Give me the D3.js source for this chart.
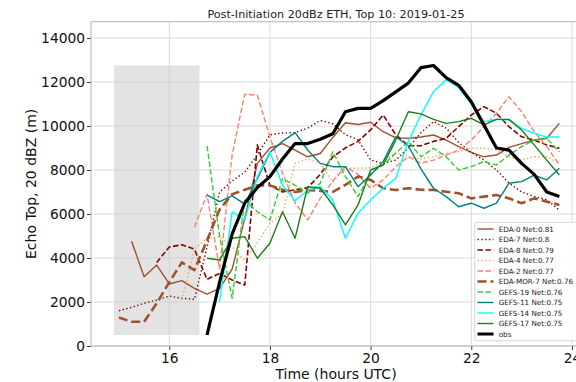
<!DOCTYPE html>
<html>
<head>
<meta charset="utf-8">
<script src="https://cdn.jsdelivr.net/npm/d3@7"></script>
<style>
    body { margin: 0; background: #fff; }
    svg { display: block; font-family: "DejaVu Sans", sans-serif; }
</style>
</head>
<body>
<div id="chart"></div>
<script>
// time steps (hours UTC), 15 min apart
const hours = [15, 15.25, 15.5, 15.75, 16, 16.25, 16.5, 16.75, 17, 17.25, 17.5, 17.75,
    18, 18.25, 18.5, 18.75, 19, 19.25, 19.5, 19.75, 20, 20.25, 20.5, 20.75,
    21, 21.25, 21.5, 21.75, 22, 22.25, 22.5, 22.75, 23, 23.25, 23.5, 23.75];

// echo top heights (m), null = no value
const eda0 = [null, 4770, 3150, 3680, 2820, 2970, 2620, 2360, 2620, 3500, 5800, 8300,
    9000, 9200, 8900, 8600, 8750, 9480, 10150, 10070, 10170, 9740, 9460, 9440,
    9500, 9590, 9360, 9060, 8800, 8600, 8680, 9030, 9200, 9360, 9440, 10120];
const eda7 = [1600, 1760, 1940, 2090, 2270, 2170, 2120, 4500, 7000, 7500, 7900, 8700,
    9600, 9680, 9700, 9900, 10250, 10100, 9600, 9380, 8450, 8300, 8450, 9000,
    9700, 10200, 9900, 9250, 8800, 8450, 8000, 7400, 7000, 6800, 6650, 6180];
const eda8 = [null, null, null, 3800, 4500, 4600, 4400, 3030, 3300, 3000, 2770, 9140,
    7300, 7000, 7100, 7200, 7800, 8600, 9000, 9300, 9820, 10500, 9600, 9100,
    9100, 9300, 9440, 9970, 10500, 10880, 10580, 9970, 9510, 9360, 9140, 8990];
const eda4 = [null, null, null, null, null, 2100, 4400, 4900, 4970, 4510, 3900, 4700,
    5580, 6000, 8300, 8500, 8300, 7470, 8080, 8080, 8100, 8380, 8800, 8600,
    8500, 8600, 8750, 8830, 8990, 8990, 8910, 8600, 8450, 8600, 8600, 8300];
const eda2 = [null, null, null, null, null, null, 5400, 6900, 3500, 8700, 11450, 11400,
    9500, 7850, 6500, 5730, 6710, 7500, 8150, 7800, 7170, 7550, 8150, 8600,
    8300, 8450, 8680, 8900, 9360, 9970, 10580, 11330, 10650, 9740, 9060, 8230];
const edaMor7 = [1300, 1100, 1100, 1940, 2900, 3800, 3450, 4800, 6200, 6900, 7100, 7300,
    7300, 7100, 7000, 7090, 7050, 7010, 7320, 7700, 7550, 7170, 7090, 7170,
    7100, 7090, 7010, 6940, 6710, 6790, 6860, 6710, 6490, 6710, 6560, 6410];
const gefs19 = [null, null, null, null, null, null, null, 9100, 5000, 2170, 6640, 6100,
    5730, 7600, 7300, 6940, 7400, 8830, 7700, 6790, 7850, 8230, 8760, 9290,
    8600, 8990, 8600, 8000, 8150, 8380, 8230, 8680, 9060, 9360, 9440, 8830];
const gefs11 = [null, null, null, null, null, null, null, 6860, 6560, 6820, 6450, 7600,
    8800, 9300, 9700, 8910, 8300, 8150, 8150, 7240, 7770, 8380, 9510, 9100,
    8050, 7170, 6790, 6330, 6490, 6260, 6490, 7400, 7470, 7770, 7550, 8080];
const gefs14 = [null, null, null, null, null, null, null, null, 2010, 6100, 5730, 7700,
    8830, 7300, 6600, 7090, 7240, 6640, 4900, 6030, 6640, 7170, 7620, 9300,
    10500, 11560, 12090, 11750, 11000, 10200, 10300, 10270, 9890, 9670, 9490, 9510];
const gefs17 = [null, null, null, null, null, null, null, 3990, 3910, 4900, 4970, 3990,
    4670, 6100, 4900, 7240, 7170, 6410, 5500, 6410, 8000, 8230, 9360, 10650,
    10550, 10300, 10120, 10200, 10350, 10050, 10300, 10300, 9820, 9140, 8450, 7770];
const obs = [null, null, null, null, null, null, null, 500, 2900, 5100, 6500, 7200,
    7700, 8500, 9200, 9200, 9400, 9650, 10650, 10800, 10800, 11150, 11550, 11950,
    12650, 12750, 12200, 11850, 11100, 10050, 9000, 8900, 8300, 7800, 7000, 6800];

const labels = ["EDA-0 Net:0.81", "EDA-7 Net:0.8", "EDA-8 Net:0.79", "EDA-4 Net:0.77",
    "EDA-2 Net:0.77", "EDA-MOR-7 Net:0.76", "GEFS-19 Net:0.76", "GEFS-11 Net:0.75",
    "GEFS-14 Net:0.75", "GEFS-17 Net:0.75", "obs"];
const values = [eda0, eda7, eda8, eda4, eda2, edaMor7, gefs19, gefs11, gefs14, gefs17, obs];

// initiation window (hours, m)
const spanHours = [14.9, 16.6];
const spanHeight = [500, 12750];

const xTicks = [16, 18, 20, 22, 24];
const yTicks = [0, 2000, 4000, 6000, 8000, 10000, 12000, 14000];

// line styles, same order as labels
const colors = ["#a0522d", "#800000", "#8b0000", "#f4a460", "#fa8072", "#a0522d",
    "#32cd32", "#008080", "#00ffff", "#1a7f1a", "#000000"];
const widths = [1.4, 1.4, 1.6, 1.4, 1.4, 2.6, 1.4, 1.4, 1.4, 1.4, 3.2];
const dashes = [null, "1.4,2.4", "5.5,2.4", "1.4,2.4", "5.5,2.4", "9,4", "5.5,2.4",
    null, null, null, null];

const W = 576, H = 382;
const plot = { left: 91, right: 581, top: 21.7, bottom: 346 };

var svg = d3.select("#chart")
    .append("svg")
    .attr("width", W)
    .attr("height", H);

var x = d3.scaleLinear()
    .domain([14.445, 24.18])
    .range([plot.left, plot.right]);

var y = d3.scaleLinear()
    .domain([0, 14740])
    .range([plot.bottom, plot.top]);

// grid
svg.append("g")
    .selectAll("line")
    .data(xTicks)
    .enter()
    .append("line")
    .attr("x1", d => x(d)).attr("x2", d => x(d))
    .attr("y1", plot.top).attr("y2", plot.bottom)
    .style("stroke", "#d6d6d6")
    .style("stroke-width", 0.9);

svg.append("g")
    .selectAll("line")
    .data(yTicks)
    .enter()
    .append("line")
    .attr("x1", plot.left).attr("x2", plot.right)
    .attr("y1", d => y(d)).attr("y2", d => y(d))
    .style("stroke", "#d6d6d6")
    .style("stroke-width", 0.9);

// shaded window
svg.append("rect")
    .attr("x", x(spanHours[0]))
    .attr("width", x(spanHours[1]) - x(spanHours[0]))
    .attr("y", y(spanHeight[1]))
    .attr("height", y(spanHeight[0]) - y(spanHeight[1]))
    .style("fill", "#c8c8c8")
    .style("opacity", 0.5);

// series lines
var line = d3.line()
    .defined(d => d[1] != null)
    .x(d => x(d[0]))
    .y(d => y(d[1]));

var plotArea = svg.append("g");
values.forEach((vals, i) => {
    plotArea.append("path")
        .datum(hours.map((h, j) => [h, vals[j]]))
        .attr("d", line)
        .style("fill", "none")
        .style("stroke", colors[i])
        .style("stroke-width", widths[i])
        .style("stroke-dasharray", dashes[i])
        .style("stroke-linejoin", "round");
});

// axes
var xAxis = svg.append("g")
    .attr("transform", "translate(0," + plot.bottom + ")")
    .call(d3.axisBottom(x).tickValues(xTicks).tickSize(4).tickPadding(3).tickFormat(d3.format("d")));
var yAxis = svg.append("g")
    .attr("transform", "translate(" + plot.left + ",0)")
    .call(d3.axisLeft(y).tickValues(yTicks).tickSize(4).tickPadding(2).tickFormat(d3.format("d")));

[xAxis, yAxis].forEach(a => {
    a.select(".domain").remove();
    a.selectAll(".tick line").style("stroke", "#333");
    a.selectAll(".tick text")
        .style("font-family", "DejaVu Sans")
        .style("font-size", "13.8px")
        .style("fill", "#111");
});

// frame
svg.append("rect")
    .attr("x", plot.left)
    .attr("y", plot.top)
    .attr("width", plot.right - plot.left)
    .attr("height", plot.bottom - plot.top)
    .style("fill", "none")
    .style("stroke", "#b3b3b3")
    .style("stroke-width", 1);

// titles
svg.append("text")
    .attr("x", 336).attr("y", 18)
    .attr("text-anchor", "middle")
    .style("font-size", "11.2px")
    .style("fill", "#222")
    .text("Post-Initiation 20dBz ETH, Top 10: 2019-01-25");

svg.append("text")
    .attr("x", 336).attr("y", 379)
    .attr("text-anchor", "middle")
    .style("font-size", "14px")
    .style("fill", "#111")
    .text("Time (hours UTC)");

svg.append("text")
    .attr("transform", "translate(36," + ((plot.top + plot.bottom) / 2) + ") rotate(-90)")
    .attr("text-anchor", "middle")
    .style("font-size", "14px")
    .style("fill", "#111")
    .text("Echo Top, 20 dBZ (m)");

// legend
var legend = svg.append("g");
legend.append("rect")
    .attr("x", 474.7).attr("y", 222.3)
    .attr("width", 103).attr("height", 118.5)
    .attr("rx", 2)
    .style("fill", "#fff")
    .style("fill-opacity", 0.85)
    .style("stroke", "#cccccc")
    .style("stroke-width", 0.8);

labels.forEach((lab, i) => {
    let ly = 229 + i * 10.5;
    legend.append("line")
        .attr("x1", 477.5).attr("x2", 493.5)
        .attr("y1", ly).attr("y2", ly)
        .style("stroke", colors[i])
        .style("stroke-width", i == 10 ? 3 : widths[i])
        .style("stroke-dasharray", dashes[i]);
    legend.append("text")
        .attr("x", 498.7).attr("y", ly + 2.6)
        .style("font-size", "7.2px")
        .style("fill", "#222")
        .text(lab);
});
</script>
</body>
</html>
